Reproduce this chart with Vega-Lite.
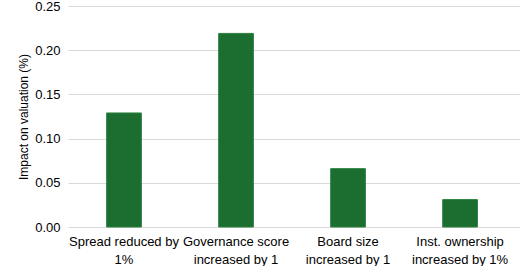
{
  "$schema": "https://vega.github.io/schema/vega-lite/v6.json",
  "width": 453,
  "height": 221,
  "padding": {"left": 17, "top": 0, "right": 0, "bottom": 0},
  "background": "white",
  "data": {"values": [
    {"cat": "Spread reduced by 1%", "v": 0.129},
    {"cat": "Governance score increased by 1", "v": 0.219},
    {"cat": "Board size increased by 1", "v": 0.066},
    {"cat": "Inst. ownership increased by 1%", "v": 0.031}
  ]},
  "mark": {"type": "bar", "color": "#1c6e30", "stroke": "#2b8040", "strokeWidth": 1},
  "encoding": {
    "x": {
      "field": "cat", "type": "nominal", "sort": null,
      "scale": {"paddingInner": 0.69, "paddingOuter": 0.367, "align": 0.47},
      "axis": {
        "title": null, "labelAngle": 0, "ticks": false, "domain": false,
        "labelExpr": "split(datum.label === 'Spread reduced by 1%' ? 'Spread reduced by|1%' : datum.label === 'Governance score increased by 1' ? 'Governance score|increased by 1' : datum.label === 'Board size increased by 1' ? 'Board size|increased by 1' : 'Inst. ownership|increased by 1%', '|')",
        "labelFont": "Liberation Sans", "labelFontSize": 13, "labelColor": "#000000",
        "labelPadding": 8, "labelLineHeight": 18, "labelLimit": 200
      }
    },
    "y": {
      "field": "v", "type": "quantitative",
      "scale": {"domain": [0, 0.25]},
      "axis": {
        "title": "Impact on valuation (%)", "titleFont": "Liberation Sans", "titleFontSize": 12,
        "titleFontWeight": "normal", "titleColor": "#000000", "titlePadding": 4,
        "values": [0, 0.05, 0.1, 0.15, 0.2, 0.25], "format": ".2f",
        "labelFont": "Liberation Sans", "labelFontSize": 13, "labelColor": "#000000",
        "labelPadding": 8,
        "ticks": false, "domain": false,
        "grid": true, "gridColor": "#d9d9d9", "gridWidth": 1
      }
    }
  },
  "config": {"view": {"stroke": null}}
}
